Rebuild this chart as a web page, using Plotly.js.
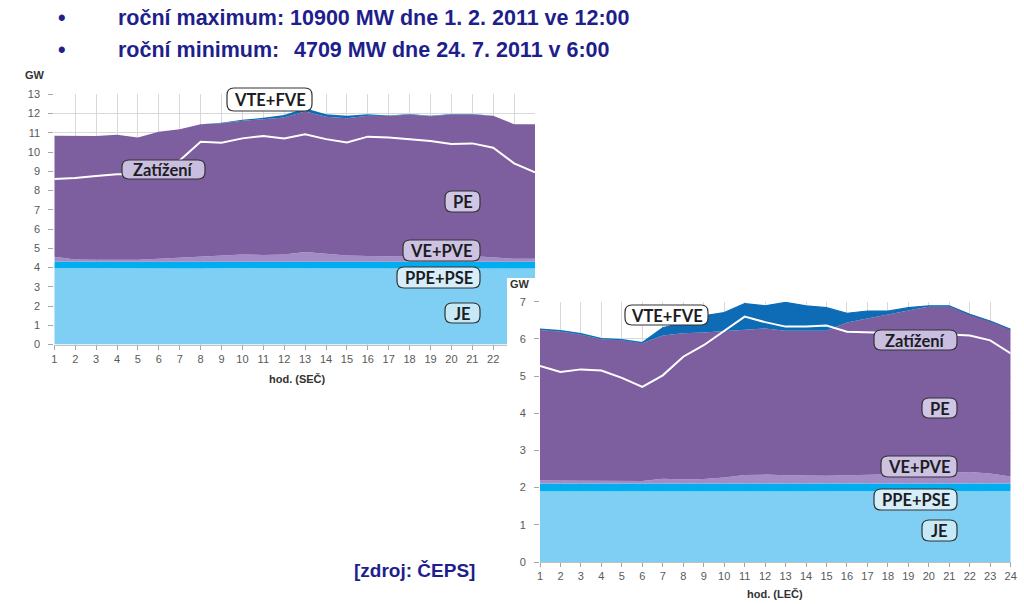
<!DOCTYPE html>
<html><head><meta charset="utf-8">
<script src="https://cdn.plot.ly/plotly-3.0.1.min.js"></script>
<style>html,body{margin:0;padding:0;background:#fff}#chart{width:1024px;height:604px}</style>
</head><body><div id="chart"></div>
<script>
// ---------- data ----------
const hours = [1,2,3,4,5,6,7,8,9,10,11,12,13,14,15,16,17,18,19,20,21,22,23,24];

// winter day (max) - GW, stacked components
const winterJE   = [3.98,3.96,3.96,3.96,3.95,3.95,3.95,3.95,3.96,3.96,3.95,3.94,3.95,3.95,3.95,3.95,3.94,3.94,3.94,3.95,3.95,3.95,3.95,3.95];
const winterPPE  = [0.33,0.34,0.34,0.34,0.35,0.35,0.35,0.35,0.34,0.34,0.35,0.36,0.35,0.35,0.35,0.35,0.36,0.36,0.36,0.35,0.35,0.35,0.35,0.35];
const winterVE   = [0.25,0.12,0.10,0.10,0.10,0.15,0.20,0.25,0.32,0.38,0.35,0.38,0.50,0.42,0.32,0.30,0.28,0.30,0.32,0.35,0.30,0.22,0.15,0.15];
const winterPE   = [6.28,6.41,6.43,6.50,6.36,6.61,6.69,6.89,6.87,6.94,7.05,7.12,7.30,7.12,7.13,7.29,7.29,7.35,7.24,7.30,7.35,7.36,7.00,7.00];
const winterVTE  = [0,0,0,0,0,0,0,0.01,0.03,0.06,0.08,0.12,0.17,0.12,0.14,0.07,0.03,0.02,0.02,0.02,0.02,0.01,0,0];
const winterLoad = [8.60,8.65,8.75,8.84,8.84,9.00,9.56,10.54,10.48,10.71,10.83,10.71,10.92,10.67,10.50,10.80,10.76,10.67,10.57,10.42,10.45,10.22,9.41,8.95];

// summer day (min) - GW, stacked components
const summerJE   = [1.90,1.90,1.90,1.90,1.90,1.90,1.91,1.91,1.90,1.90,1.90,1.90,1.90,1.90,1.90,1.90,1.91,1.91,1.91,1.91,1.91,1.91,1.91,1.91];
const summerPPE  = [0.21,0.21,0.21,0.21,0.21,0.21,0.20,0.20,0.21,0.21,0.21,0.21,0.21,0.21,0.21,0.21,0.20,0.20,0.20,0.20,0.20,0.20,0.20,0.20];
const summerVE   = [0.08,0.08,0.07,0.07,0.07,0.07,0.13,0.11,0.12,0.16,0.23,0.24,0.22,0.21,0.21,0.22,0.23,0.24,0.26,0.27,0.29,0.31,0.27,0.19];
const summerPE   = [4.05,4.01,3.94,3.81,3.78,3.70,3.85,3.93,3.94,3.94,3.92,3.93,3.89,3.90,3.90,4.11,4.21,4.31,4.41,4.49,4.47,4.24,4.10,3.96];
const summerVTE  = [0.02,0.02,0.02,0.02,0.02,0.02,0.21,0.29,0.45,0.50,0.69,0.61,0.76,0.67,0.62,0.25,0.20,0.09,0.06,0.02,0.02,0,0,0];
const summerLoad = [5.27,5.11,5.18,5.15,4.95,4.71,5.02,5.52,5.83,6.21,6.60,6.45,6.33,6.33,6.36,6.19,6.17,6.15,6.14,6.13,6.12,6.09,5.96,5.61];

const seriesNames = ['JE','PPE+PSE','VE+PVE','PE','VTE+FVE'];
const loadName = 'Zatížení';
const headerMax = 'roční maximum: 10900 MW dne 1. 2. 2011 ve 12:00';
const headerMinLabel = 'roční minimum:';
const headerMinValue = '4709 MW dne 24. 7. 2011 v 6:00';
const sourceText = '[zdroj: ČEPS]';
const winterAxisTitle = 'hod. (SEČ)';
const summerAxisTitle = 'hod. (LEČ)';

// ---------- styling ----------
const W = 1024, H = 604;
const colors = ['#7ecff3','#00aeef','#a38cc6','#7d5fa0','#0d6cb5'];
const px = v => v / W, py = v => 1 - v / H;

function stackTraces(arrs, xa, ya, group, vteLine) {
  return arrs.map((a, i) => ({
    type: 'scatter', mode: 'lines', x: hours, y: a, name: seriesNames[i],
    stackgroup: group, xaxis: xa, yaxis: ya,
    fillcolor: colors[i],
    line: {color: colors[i], width: (i === 4 ? vteLine : 0)},
    hoverinfo: 'skip', showlegend: false
  }));
}

const traces = [].concat(
  stackTraces([winterJE, winterPPE, winterVE, winterPE, winterVTE], 'x', 'y', 'w', 0),
  [{type:'scatter', mode:'lines', x: hours, y: winterLoad, name: loadName, xaxis:'x', yaxis:'y',
    line:{color:'#ffffff', width:2}, hoverinfo:'skip', showlegend:false}],
  [{type:'scatter', mode:'lines', x: [], y: [], xaxis:'x2', yaxis:'y2', showlegend:false, hoverinfo:'skip'}],
  stackTraces([summerJE, summerPPE, summerVE, summerPE, summerVTE], 'x3', 'y3', 's', 1.2),
  [{type:'scatter', mode:'lines', x: hours, y: summerLoad, name: loadName, xaxis:'x3', yaxis:'y3',
    line:{color:'#ffffff', width:2}, hoverinfo:'skip', showlegend:false}]
);

const tickFont = {family:'Liberation Sans, Arial, sans-serif', size:11, color:'#595959'};
function xAx(domain, anchor) {
  return {domain, anchor, range:[1,24], tickmode:'linear', tick0:1, dtick:1,
    showgrid:true, gridcolor:'#d9d9d9', gridwidth:1, zeroline:false,
    ticks:'outside', ticklen:4, tickcolor:'#a6a6a6', showline:true, linecolor:'#bfbfbf',
    tickfont: tickFont, fixedrange:true, ticklabelstandoff:0};
}
function yAx(domain, anchor, max) {
  return {domain, anchor, range:[0,max], tickmode:'linear', tick0:0, dtick:1,
    showgrid:true, gridcolor:'#d9d9d9', gridwidth:1, zeroline:false,
    ticks:'outside', ticklen:5, tickcolor:'#a6a6a6', showline:false,
    tickfont: tickFont, fixedrange:true, ticklabelstandoff:6};
}

// label boxes (pixel boxes) : [text, x0, y0, x1, y1]
const labelFills = {'VTE+FVE':'#ffffff', 'Zatížení':'#c9bee0', 'PE':'#cfc5e4', 'VE+PVE':'#cdc2e1', 'PPE+PSE':'#d6eefa', 'JE':'#c6e9f8'};
const labelBoxes = [
  ['VTE+FVE', 227, 88, 312, 111],
  [loadName, 122, 160, 205, 179],
  ['PE', 445, 191, 480, 212],
  ['VE+PVE', 403, 240, 480, 261],
  ['PPE+PSE', 397, 267, 480, 288],
  ['JE', 445, 303, 480, 323],
  ['VTE+FVE', 625, 305, 708, 325],
  [loadName, 874, 330, 957, 350],
  ['PE', 922, 398, 957, 418],
  ['VE+PVE', 881, 456, 957, 477],
  ['PPE+PSE', 874, 489, 957, 510],
  ['JE', 922, 520, 957, 541]
];
function rr(x0,y0,x1,y1,r){
  const X = v => px(v), Y = v => py(v);
  return `M${X(x0+r)},${Y(y0)} L${X(x1-r)},${Y(y0)} Q${X(x1)},${Y(y0)} ${X(x1)},${Y(y0+r)} ` +
         `L${X(x1)},${Y(y1-r)} Q${X(x1)},${Y(y1)} ${X(x1-r)},${Y(y1)} L${X(x0+r)},${Y(y1)} ` +
         `Q${X(x0)},${Y(y1)} ${X(x0)},${Y(y1-r)} L${X(x0)},${Y(y0+r)} Q${X(x0)},${Y(y0)} ${X(x0+r)},${Y(y0)} Z`;
}
const shapes = labelBoxes.map(b => ({
  type:'path', xref:'paper', yref:'paper', layer:'above',
  path: rr(b[1], b[2], b[3], b[4], 7),
  fillcolor: labelFills[b[0]], line:{color:'#333333', width:1.2}
}));

const labelFont = {family:'Lato, Open Sans, sans-serif', size:16.5, color:'#1c1c24', weight:700};
const annotations = labelBoxes.map(b => ({
  xref:'paper', yref:'paper', x: px((b[1]+b[3])/2), y: py((b[2]+b[4])/2 + 0.5),
  xanchor:'center', yanchor:'middle', showarrow:false, text: b[0], font: labelFont
}));

const navy = '#1e1e8c';
const headFont = {family:'Liberation Sans, Arial, sans-serif', size:21.5, color:navy, weight:700};
const srcFont = {family:'Liberation Sans, Arial, sans-serif', size:19, color:navy, weight:700};
const axTitleFont = {family:'Liberation Sans, Arial, sans-serif', size:11, color:'#333333', weight:700};
function ann(text, x, y, xanchor, font) {
  return {xref:'paper', yref:'paper', x: px(x), y: py(y), xanchor, yanchor:'middle', showarrow:false, text, font};
}
annotations.push(
  ann('•', 62, 18, 'center', headFont),
  ann(headerMax, 116, 18, 'left', headFont),
  ann('•', 62, 50, 'center', headFont),
  ann(headerMinLabel, 116, 50, 'left', headFont),
  ann(headerMinValue, 612, 50, 'right', headFont),
  ann(sourceText, 352, 570, 'left', srcFont),
  ann('GW', 35, 75, 'center', axTitleFont),
  ann('GW', 520, 284, 'center', axTitleFont),
  ann(winterAxisTitle, 297, 379, 'center', axTitleFont),
  ann(summerAxisTitle, 775, 594, 'center', axTitleFont)
);

const layout = {
  width: W, height: H, autosize:false,
  margin:{l:0, r:0, t:0, b:0, pad:0},
  paper_bgcolor:'#ffffff', plot_bgcolor:'#ffffff',
  showlegend:false, hovermode:false,
  xaxis: xAx([px(54.3), px(535)], 'y'),
  yaxis: yAx([py(344.5), py(94.3)], 'x', 13),
  xaxis2: {domain:[px(507), 1], anchor:'y2', visible:false, range:[0,1], fixedrange:true},
  yaxis2: {domain:[0, py(278)], anchor:'x2', visible:false, range:[0,1], fixedrange:true},
  xaxis3: xAx([px(540), px(1010.7)], 'y3'),
  yaxis3: yAx([py(562), py(301.7)], 'x3', 7),
  shapes, annotations
};

Plotly.newPlot('chart', traces, layout, {staticPlot:true, displayModeBar:false});
</script>
</body></html>
